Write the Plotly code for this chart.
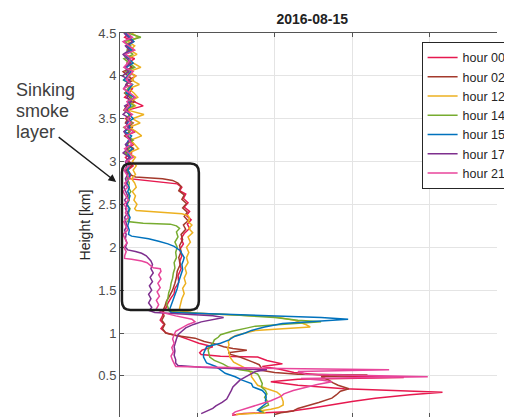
import plotly.graph_objects as go

# ---------------- data ----------------
hours = ["hour 00", "hour 02", "hour 12", "hour 14", "hour 15", "hour 17", "hour 21"]
colors = ["#E6194F", "#A43A2C", "#EDB120", "#77AC30", "#0072BD", "#7E2F8E", "#E8459B"]

# shared height grid (km) for the noisy upper part of each profile
noise_h = [4.50, 4.45, 4.40, 4.35, 4.30, 4.25, 4.20, 4.15, 4.10, 4.05, 4.00, 3.95,
           3.90, 3.85, 3.80, 3.75, 3.70, 3.65, 3.60, 3.55, 3.50, 3.45, 3.40, 3.35,
           3.30, 3.25, 3.20, 3.15, 3.10, 3.05, 3.00, 2.95, 2.90, 2.85, 2.80, 2.75,
           2.70, 2.65, 2.60, 2.55, 2.50, 2.45, 2.40, 2.35, 2.30, 2.25, 2.20, 2.15,
           2.10, 2.05, 2.00, 1.95, 1.90, 1.85]

# hour 00
noise_x_00 = [0.12, 0.06, 0.17, 0.09, 0.14, 0.05, 0.19, 0.10, 0.15, 0.07, 0.21, 0.11,
              0.08, 0.16, 0.12, 0.06, 0.18, 0.30, 0.10, 0.14, 0.07, 0.17, 0.11, 0.20,
              0.08, 0.13, 0.18, 0.09, 0.15, 0.07, 0.12, 0.17, 0.10, 0.14, 0.12]
low_h_00 = [2.77, 2.74, 2.70, 2.66, 2.62, 2.57, 2.52, 2.47, 2.42, 2.37, 2.32, 2.27,
            2.22, 2.16, 2.10, 2.04, 1.97, 1.90, 1.83, 1.75, 1.67, 1.59, 1.52, 1.46,
            1.41, 1.35, 1.30, 1.25, 1.20, 1.15, 1.10, 1.05, 1.00, 0.96, 0.92, 0.88,
            0.84, 0.80, 0.77, 0.75, 0.73, 0.72, 0.68, 0.64, 0.61, 0.58, 0.54, 0.50,
            0.48, 0.46, 0.43, 0.39, 0.35, 0.31, 0.28, 0.24, 0.20, 0.16, 0.12, 0.08,
            0.06, 0.04]
low_x_00 = [0.45, 0.74, 0.80, 0.77, 0.85, 0.82, 0.88, 0.83, 0.90, 0.86, 0.92, 0.87,
            0.90, 0.83, 0.79, 0.82, 0.77, 0.80, 0.77, 0.79, 0.75, 0.76, 0.71, 0.70,
            0.66, 0.62, 0.60, 0.56, 0.55, 0.52, 0.57, 0.53, 0.60, 0.78, 0.90, 1.02,
            1.20, 1.06, 1.03, 1.05, 1.30, 1.78, 1.90, 2.10, 1.84, 2.05, 2.25, 2.70,
            3.67, 2.30, 1.95, 2.30, 2.90, 4.17, 3.75, 3.30, 3.00, 2.75, 2.45, 2.15,
            1.60, 1.45]

# hour 02
noise_x_02 = [0.08, 0.15, 0.05, 0.12, 0.18, 0.07, 0.13, 0.09, 0.16, 0.04, 0.11, 0.17,
              0.08, 0.14, 0.06, 0.12, 0.19, 0.09, 0.05, 0.15, 0.10, 0.07, 0.16, 0.12,
              0.06, 0.14, 0.09, 0.18, 0.07, 0.13, 0.10, 0.15, 0.08, 0.12]
low_h_02 = [2.82, 2.80, 2.78, 2.75, 2.71, 2.66, 2.61, 2.56, 2.51, 2.46, 2.41, 2.36,
            2.31, 2.26, 2.21, 2.15, 2.09, 2.02, 1.95, 1.88, 1.80, 1.72, 1.65, 1.58,
            1.50, 1.43, 1.37, 1.31, 1.25, 1.20, 1.15, 1.10, 1.05, 1.00, 0.97, 0.94,
            0.90, 0.87, 0.84, 0.82, 0.80, 0.77, 0.75, 0.72, 0.69, 0.66, 0.63, 0.59,
            0.57, 0.54, 0.52, 0.51, 0.49, 0.45, 0.42, 0.39, 0.35, 0.32, 0.28, 0.24,
            0.19, 0.15, 0.12, 0.09, 0.07, 0.05]
low_x_02 = [0.20, 0.55, 0.68, 0.75, 0.79, 0.76, 0.83, 0.80, 0.86, 0.81, 0.87, 0.83,
            0.88, 0.82, 0.85, 0.79, 0.81, 0.77, 0.79, 0.76, 0.78, 0.74, 0.73, 0.71,
            0.68, 0.64, 0.60, 0.58, 0.55, 0.57, 0.54, 0.58, 0.55, 0.59, 0.72, 0.97,
            1.09, 1.24, 1.34, 1.46, 1.64, 1.40, 1.43, 1.55, 1.65, 1.72, 1.80, 1.83,
            1.78, 2.00, 2.30, 3.20, 2.60, 2.70, 2.75, 2.82, 2.96, 2.85, 2.80, 2.74,
            2.57, 2.40, 2.30, 2.24, 2.08, 2.00]

# hour 12
noise_x_12 = [0.15, 0.24, 0.10, 0.19, 0.13, 0.22, 0.09, 0.17, 0.27, 0.12, 0.20, 0.15,
              0.25, 0.11, 0.18, 0.23, 0.13, 0.20, 0.10, 0.31, 0.16, 0.26, 0.12, 0.21,
              0.28, 0.14, 0.19, 0.24, 0.11, 0.20, 0.16, 0.21, 0.17, 0.20, 0.15, 0.19,
              0.21, 0.16, 0.20, 0.18, 0.22, 0.19]
low_h_12 = [2.43, 2.41, 2.39, 2.37, 2.34, 2.30, 2.26, 2.22, 2.17, 2.12, 2.06, 2.00,
            1.94, 1.88, 1.82, 1.76, 1.70, 1.64, 1.58, 1.52, 1.46, 1.40, 1.34, 1.29,
            1.26, 1.23, 1.21, 1.19, 1.15, 1.10, 1.07, 1.05, 1.03, 1.00, 0.97, 0.94,
            0.90, 0.86, 0.82, 0.78, 0.72, 0.66, 0.62, 0.59, 0.55, 0.52, 0.49, 0.45,
            0.42, 0.39, 0.35, 0.31, 0.28, 0.25, 0.20, 0.16, 0.13, 0.11, 0.09, 0.07,
            0.05]
low_x_12 = [0.21, 0.55, 0.80, 0.88, 0.90, 0.88, 0.93, 0.89, 0.94, 0.88, 0.91, 0.86,
            0.89, 0.86, 0.88, 0.84, 0.86, 0.83, 0.85, 0.81, 0.83, 0.80, 0.78, 0.77,
            0.78, 1.00, 1.50, 2.00, 2.25, 2.40, 2.46, 2.10, 1.75, 1.62, 1.50, 1.43,
            1.40, 1.41, 1.39, 1.41, 1.42, 1.47, 1.55, 1.62, 1.68, 1.70, 1.70, 1.73,
            1.76, 1.78, 1.90, 2.03, 2.07, 2.09, 2.11, 2.11, 2.05, 1.95, 1.80, 1.88,
            1.50]

# hour 14
noise_x_14 = [0.10, 0.27, 0.06, 0.14, 0.09, 0.17, 0.05, 0.12, 0.19, 0.08, 0.13, 0.04,
              0.16, 0.10, 0.07, 0.15, 0.11, 0.18, 0.06, 0.12, 0.09, 0.16, 0.05, 0.13,
              0.10, 0.17, 0.08, 0.12, 0.06, 0.14, 0.09, 0.12, 0.10, 0.13, 0.09, 0.12,
              0.11, 0.14, 0.10, 0.12, 0.09, 0.13, 0.11, 0.12, 0.10]
low_h_14 = [2.28, 2.27, 2.25, 2.22, 2.18, 2.12, 2.06, 2.00, 1.94, 1.88, 1.82, 1.76,
            1.70, 1.64, 1.58, 1.52, 1.47, 1.41, 1.35, 1.29, 1.25, 1.23, 1.21, 1.18,
            1.15, 1.13, 1.11, 1.08, 1.06, 1.02, 0.98, 0.95, 0.92, 0.88, 0.84, 0.80,
            0.76, 0.72, 0.68, 0.64, 0.60, 0.57, 0.55, 0.52, 0.49, 0.45, 0.41, 0.37,
            0.33, 0.29, 0.25, 0.21, 0.16, 0.13, 0.10, 0.07]
low_x_14 = [0.30, 0.65, 0.73, 0.77, 0.73, 0.75, 0.71, 0.74, 0.72, 0.73, 0.70, 0.71,
            0.69, 0.68, 0.66, 0.65, 0.63, 0.62, 0.60, 0.62, 0.64, 1.00, 1.50, 2.00,
            2.30, 2.60, 2.20, 1.75, 1.65, 1.45, 1.30, 1.27, 1.22, 1.20, 1.16, 1.14,
            1.15, 1.16, 1.22, 1.33, 1.41, 1.55, 1.70, 1.78, 1.80, 1.82, 1.84, 1.83,
            1.88, 1.90, 1.87, 1.90, 1.92, 1.85, 1.80, 1.86]

# hour 15
noise_x_15 = [0.07, 0.13, 0.18, 0.09, 0.15, 0.06, 0.11, 0.17, 0.08, 0.14, 0.10, 0.05,
              0.16, 0.12, 0.08, 0.19, 0.10, 0.14, 0.07, 0.12, 0.17, 0.09, 0.13, 0.06,
              0.15, 0.11, 0.08, 0.16, 0.10, 0.13, 0.09, 0.12, 0.10, 0.13, 0.11, 0.09,
              0.12, 0.10, 0.13, 0.11, 0.09, 0.12, 0.10, 0.13, 0.11, 0.10, 0.12, 0.11]
low_h_15 = [2.13, 2.12, 2.10, 2.07, 2.04, 2.01, 1.96, 1.91, 1.88, 1.85, 1.80, 1.74,
            1.67, 1.60, 1.52, 1.45, 1.38, 1.32, 1.27, 1.24, 1.22, 1.20, 1.18, 1.16,
            1.14, 1.11, 1.07, 1.03, 1.00, 0.96, 0.92, 0.88, 0.84, 0.80, 0.76, 0.72,
            0.68, 0.65, 0.61, 0.57, 0.53, 0.49, 0.45, 0.41, 0.37, 0.33, 0.29, 0.25,
            0.21, 0.18, 0.14, 0.10, 0.08]
low_x_15 = [0.15, 0.25, 0.37, 0.50, 0.62, 0.70, 0.78, 0.81, 0.83, 0.82, 0.80, 0.81,
            0.78, 0.76, 0.74, 0.71, 0.69, 0.66, 0.64, 0.66, 1.30, 2.00, 2.60, 2.95,
            2.55, 2.10, 1.87, 1.70, 1.62, 1.48, 1.41, 1.30, 1.12, 1.10, 1.08, 1.08,
            1.10, 1.12, 1.24, 1.30, 1.36, 1.49, 1.58, 1.70, 1.72, 1.84, 1.88, 1.89,
            1.88, 1.89, 1.84, 1.78, 1.83]

# hour 17
noise_x_17 = [0.05, 0.11, 0.16, 0.07, 0.12, 0.04, 0.09, 0.14, 0.06, 0.11, 0.03, 0.13,
              0.08, 0.05, 0.12, 0.09, 0.15, 0.06, 0.10, 0.04, 0.13, 0.08, 0.11, 0.05,
              0.09, 0.14, 0.07, 0.10, 0.04, 0.12, 0.07, 0.09, 0.06, 0.10, 0.07, 0.09,
              0.05, 0.08, 0.10, 0.06, 0.09, 0.07, 0.10, 0.06, 0.08, 0.09, 0.06, 0.08,
              0.07, 0.09, 0.07]
low_h_17 = [1.97, 1.95, 1.93, 1.90, 1.87, 1.84, 1.80, 1.75, 1.70, 1.65, 1.60, 1.55,
            1.50, 1.45, 1.40, 1.35, 1.30, 1.26, 1.24, 1.22, 1.20, 1.18, 1.16, 1.13,
            1.10, 1.06, 1.02, 0.98, 0.93, 0.89, 0.84, 0.79, 0.74, 0.69, 0.65, 0.62,
            0.60, 0.59, 0.58, 0.57, 0.55, 0.52, 0.49, 0.45, 0.41, 0.37, 0.33, 0.28,
            0.23, 0.19, 0.15, 0.12, 0.09, 0.06]
low_x_17 = [0.10, 0.20, 0.28, 0.34, 0.37, 0.40, 0.42, 0.40, 0.43, 0.39, 0.42, 0.38,
            0.41, 0.37, 0.40, 0.37, 0.41, 0.38, 0.45, 0.80, 1.20, 1.34, 1.20, 1.05,
            0.95, 0.85, 0.80, 0.75, 0.73, 0.72, 0.70, 0.71, 0.70, 0.72, 0.72, 0.75,
            1.05, 1.35, 1.70, 1.90, 1.75, 1.68, 1.63, 1.55, 1.50, 1.46, 1.44, 1.41,
            1.38, 1.32, 1.24, 1.20, 1.12, 1.05]

# hour 21
noise_x_21 = [0.09, 0.16, 0.04, 0.12, 0.19, 0.07, 0.14, 0.10, 0.05, 0.17, 0.11, 0.08,
              0.15, 0.04, 0.13, 0.20, 0.09, 0.12, 0.06, 0.16, 0.10, 0.14, 0.05, 0.18,
              0.08, 0.12, 0.15, 0.06, 0.11, 0.17, 0.08, 0.12, 0.05, 0.09, 0.12, 0.06,
              0.10, 0.04, 0.08, 0.11, 0.05, 0.09, 0.07, 0.11, 0.05, 0.08, 0.10, 0.04,
              0.07, 0.09, 0.05, 0.08, 0.06]
low_h_21 = [1.87, 1.86, 1.84, 1.82, 1.79, 1.76, 1.75, 1.72, 1.68, 1.63, 1.58, 1.53,
            1.48, 1.43, 1.38, 1.33, 1.28, 1.24, 1.20, 1.16, 1.13, 1.10, 1.06, 1.02,
            0.98, 0.93, 0.88, 0.83, 0.78, 0.73, 0.68, 0.64, 0.61, 0.59, 0.57, 0.55,
            0.52, 0.49, 0.47, 0.45, 0.43, 0.40, 0.37, 0.33, 0.29, 0.26, 0.21, 0.16,
            0.12, 0.08, 0.05]
low_x_21 = [0.06, 0.15, 0.28, 0.35, 0.39, 0.43, 0.52, 0.53, 0.50, 0.53, 0.49, 0.52,
            0.48, 0.51, 0.47, 0.50, 0.47, 0.55, 0.72, 0.93, 0.97, 0.88, 0.80, 0.72,
            0.70, 0.68, 0.70, 0.67, 0.69, 0.66, 0.68, 0.70, 0.72, 1.80, 3.48, 2.30,
            2.40, 3.98, 2.34, 2.62, 2.74, 2.55, 2.40, 2.24, 2.12, 2.08, 1.95, 1.78,
            1.62, 1.49, 1.45]

series = [
    (noise_x_00, low_h_00, low_x_00),
    (noise_x_02, low_h_02, low_x_02),
    (noise_x_12, low_h_12, low_x_12),
    (noise_x_14, low_h_14, low_x_14),
    (noise_x_15, low_h_15, low_x_15),
    (noise_x_17, low_h_17, low_x_17),
    (noise_x_21, low_h_21, low_x_21),
]

# annotation box around the sinking layer (data units)
box_x0, box_x1 = 0.025, 1.02
box_y0, box_y1 = 1.267, 2.977
box_rx, box_ry = 0.11, 0.105

FONT = "Liberation Sans, Arial, Helvetica, sans-serif"

fig = go.Figure()
for name, color, (nx, lh, lx) in zip(hours, colors, series):
    fig.add_trace(go.Scatter(
        x=nx + lx,
        y=noise_h[:len(nx)] + lh,
        mode="lines",
        name=name,
        line=dict(color=color, width=1.5),
    ))

path = (f"M {box_x0+box_rx},{box_y1} L {box_x1-box_rx},{box_y1} "
        f"Q {box_x1},{box_y1} {box_x1},{box_y1-box_ry} "
        f"L {box_x1},{box_y0+box_ry} Q {box_x1},{box_y0} {box_x1-box_rx},{box_y0} "
        f"L {box_x0+box_rx},{box_y0} Q {box_x0},{box_y0} {box_x0},{box_y0+box_ry} "
        f"L {box_x0},{box_y1-box_ry} Q {box_x0},{box_y1} {box_x0+box_rx},{box_y1} Z")
fig.add_shape(type="path", path=path, xref="x", yref="y",
              line=dict(color="#1c1c1c", width=2.5))

ann = []
for txt, yy in [("Sinking", 0.8516), ("smoke", 0.7969), ("layer", 0.7422)]:
    ann.append(dict(text=txt, xref="paper", yref="paper", x=-0.2806, y=yy,
                    xanchor="left", yanchor="middle", showarrow=False,
                    font=dict(family=FONT, size=18, color="#404040")))
ann.append(dict(text="", xref="paper", yref="paper", x=-0.0102, y=0.612,
                showarrow=True, ax=-59, ay=-46, arrowhead=2, arrowsize=1.1,
                arrowwidth=1.4, arrowcolor="#1c1c1c"))

# the page body has an 8px margin, so the figure is 8px smaller than the window
fig.update_layout(
    width=504, height=409,
    margin=dict(l=112, r=0, t=25, b=0),
    paper_bgcolor="white", plot_bgcolor="white",
    font=dict(family=FONT, color="#404040"),
    title=dict(text="<b>2016-08-15</b>", x=0.51, xref="paper", xanchor="center",
               y=0.973, yref="container", yanchor="middle",
               font=dict(family=FONT, size=14, color="#222222")),
    showlegend=True,
    legend=dict(x=0.80, y=0.977, xanchor="left", yanchor="top",
                bgcolor="white", bordercolor="#262626", borderwidth=1,
                font=dict(family=FONT, size=12.5, color="#262626"),
                itemwidth=30, tracegroupgap=0),
    annotations=ann,
    xaxis=dict(range=[0, 4.875], tick0=0, dtick=1, showgrid=True, gridcolor="#e4e4e4",
               gridwidth=1, zeroline=False, showline=True, linecolor="#555555",
               linewidth=1, mirror="ticks", ticks="inside", ticklen=4,
               tickcolor="#555555", showticklabels=False),
    yaxis=dict(range=[0.02, 4.5], tick0=0, dtick=0.5, showgrid=True, gridcolor="#e4e4e4",
               gridwidth=1, zeroline=False, showline=True, linecolor="#555555",
               linewidth=1, ticks="inside", ticklen=4, tickcolor="#555555",
               tickfont=dict(family=FONT, size=13, color="#4d4d4d"),
               title=dict(text="Height [km]", standoff=4,
                          font=dict(family=FONT, size=14, color="#262626"))),
)

fig.write_html("out.html")
